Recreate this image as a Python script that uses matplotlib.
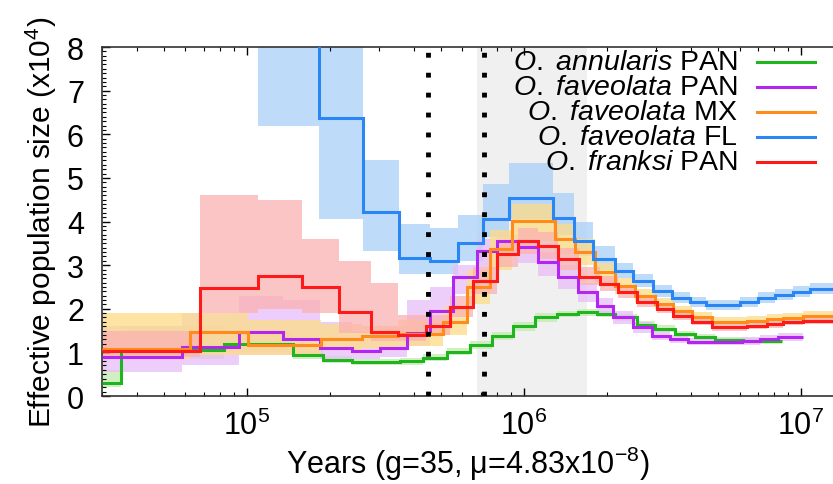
#!/usr/bin/env python
"""PSMC plot: effective population size through time for Orbicella populations."""
import matplotlib

matplotlib.use("agg")
import matplotlib.pyplot as plt
from matplotlib.ticker import LogLocator, MultipleLocator, NullFormatter

plt.rcParams["font.family"] = ["Liberation Sans", "DejaVu Sans"]
plt.rcParams["mathtext.fontset"] = "custom"
plt.rcParams["mathtext.rm"] = "Liberation Sans"
plt.rcParams["mathtext.it"] = "Liberation Sans:italic"
plt.rcParams["mathtext.bf"] = "Liberation Sans:bold"

# Step edges (years), Ne (x10^4) and bootstrap envelope for each population
ANN_PAN_EDGES = [3.0e4, 3.51e4, 8.26e4, 1.466e5, 1.88e5, 2.39e5, 3.56e5, 4.32e5,
                 5.28e5, 6.39e5, 7.66e5, 9.13e5, 1.096e6, 1.316e6, 1.567e6,
                 1.834e6, 2.13e6, 2.56e6, 2.97e6, 3.51e6, 4.14e6, 4.90e6,
                 6.18e6, 8.54e6]
ANN_PAN_NE = [0.30, 1.05, 1.19, 0.94, 0.83, 0.77, 0.80, 0.88, 1.02, 1.18, 1.38,
              1.60, 1.80, 1.88, 1.92, 1.88, 1.80, 1.63, 1.54, 1.42, 1.35, 1.28,
              1.26]
ANN_PAN_LO = [0.20, 0.85, 1.00, 0.85, 0.75, 0.70, 0.72, 0.80, 0.93, 1.08, 1.28,
              1.50, 1.70, 1.80, 1.84, 1.80, 1.72, 1.55, 1.47, 1.35, 1.28, 1.22,
              1.20]
ANN_PAN_HI = [0.60, 1.60, 1.50, 1.05, 0.92, 0.86, 0.88, 0.96, 1.10, 1.27, 1.47,
              1.70, 1.90, 1.96, 2.00, 1.96, 1.88, 1.72, 1.62, 1.50, 1.43, 1.36,
              1.33]

FAV_PAN_EDGES = [3.0e4, 5.82e4, 9.36e4, 1.349e5, 1.835e5, 2.39e5, 3.02e5,
                 3.78e5, 4.58e5, 5.55e5, 6.77e5, 7.99e5, 9.51e5, 1.124e6,
                 1.327e6, 1.567e6, 1.834e6, 2.095e6, 2.475e6, 2.90e6, 3.37e6,
                 3.91e6, 6.13e6, 7.12e6, 8.26e6, 1.017e7]
FAV_PAN_NE = [0.89, 1.12, 1.47, 1.31, 1.10, 1.03, 1.10, 1.45, 1.95, 2.73, 3.33,
              3.56, 3.42, 3.07, 2.73, 2.39, 2.06, 1.81, 1.58, 1.38, 1.31, 1.24,
              1.26, 1.31, 1.35]
FAV_PAN_LO = [0.55, 0.70, 0.95, 0.95, 0.85, 0.85, 0.90, 1.15, 1.60, 2.35, 2.95,
              3.20, 3.05, 2.75, 2.45, 2.15, 1.85, 1.65, 1.45, 1.28, 1.22, 1.16,
              1.18, 1.22, 1.26]
FAV_PAN_HI = [1.60, 1.90, 2.30, 2.20, 1.70, 1.50, 1.60, 2.20, 2.50, 3.00, 3.60,
              3.70, 3.60, 3.30, 3.00, 2.60, 2.25, 1.95, 1.70, 1.50, 1.40, 1.32,
              1.35, 1.40, 1.44]

FAV_MX_EDGES = [3.0e4, 6.22e4, 1.008e5, 1.85e5, 2.60e5, 3.51e5, 5.10e5, 6.23e5,
                7.54e5, 9.06e5, 1.295e6, 1.528e6, 1.804e6, 2.13e6, 2.52e6,
                2.97e6, 3.45e6, 4.04e6, 4.77e6, 6.38e6, 7.54e6, 8.61e6, 1.017e7,
                1.35e7]
FAV_MX_NE = [1.08, 1.47, 1.17, 1.31, 1.38, 1.42, 1.70, 2.50, 3.37, 4.01, 3.60,
             3.30, 2.84, 2.52, 2.29, 2.11, 1.95, 1.81, 1.70, 1.72, 1.77, 1.79,
             1.83]
FAV_MX_LO = [0.85, 0.95, 0.95, 1.05, 1.10, 1.15, 1.40, 2.10, 2.90, 3.55, 3.25,
             3.00, 2.60, 2.35, 2.15, 2.00, 1.85, 1.72, 1.62, 1.64, 1.68, 1.70,
             1.74]
FAV_MX_HI = [1.90, 1.90, 1.75, 1.65, 1.60, 1.75, 2.05, 2.90, 3.80, 4.40, 3.95,
             3.60, 3.05, 2.70, 2.45, 2.25, 2.07, 1.92, 1.82, 1.84, 1.88, 1.90,
             1.94]

FAV_FL_EDGES = [1.096e5, 1.82e5, 2.62e5, 3.54e5, 4.58e5, 5.78e5, 7.11e5,
                8.83e5, 1.274e6, 1.516e6, 1.775e6, 2.13e6, 2.48e6, 2.92e6,
                3.42e6, 3.97e6, 4.54e6, 6.03e6, 7.0e6, 8.05e6, 9.35e6, 1.078e7,
                1.35e7]
FAV_FL_NE = [10.0, 6.38, 4.22, 3.17, 3.10, 3.51, 4.06, 4.54, 4.08, 3.56, 3.14,
             2.87, 2.64, 2.41, 2.25, 2.16, 2.09, 2.16, 2.25, 2.32, 2.39, 2.45]
FAV_FL_LO = [6.20, 4.05, 3.33, 2.80, 2.80, 3.10, 3.65, 4.05, 3.70, 3.20, 2.90,
             2.70, 2.50, 2.28, 2.13, 2.04, 1.98, 2.04, 2.13, 2.20, 2.27, 2.33]
FAV_FL_HI = [12.0, 9.00, 5.40, 3.95, 3.85, 4.15, 4.85, 5.35, 4.65, 4.00, 3.45,
             3.05, 2.80, 2.55, 2.38, 2.28, 2.20, 2.28, 2.38, 2.45, 2.52, 2.58]

FRA_PAN_EDGES = [3.0e4, 6.76e4, 1.096e5, 1.58e5, 2.15e5, 2.80e5, 3.51e5,
                 4.43e5, 5.41e5, 6.55e5, 7.99e5, 9.51e5, 1.124e6, 1.327e6,
                 1.58e6, 1.88e6, 2.18e6, 2.56e6, 3.02e6, 3.45e6, 4.04e6, 4.77e6,
                 6.38e6, 7.54e6, 8.61e6, 1.017e7, 1.35e7]
FRA_PAN_NE = [1.03, 2.48, 2.75, 2.50, 1.93, 1.47, 1.40, 1.61, 2.04, 2.64, 3.26,
              3.56, 3.44, 3.14, 2.73, 2.57, 2.39, 2.16, 2.00, 1.83, 1.70, 1.58,
              1.61, 1.65, 1.70, 1.72]
FRA_PAN_LO = [0.90, 1.90, 2.00, 1.90, 1.45, 1.25, 1.25, 1.40, 1.80, 2.35, 2.95,
              3.25, 3.15, 2.90, 2.55, 2.40, 2.25, 2.05, 1.90, 1.74, 1.62, 1.50,
              1.53, 1.57, 1.62, 1.64]
FRA_PAN_HI = [1.50, 4.60, 4.50, 3.60, 3.10, 2.60, 1.85, 1.85, 2.30, 2.95, 3.55,
              3.85, 3.75, 3.40, 2.95, 2.75, 2.55, 2.30, 2.12, 1.94, 1.80, 1.68,
              1.71, 1.75, 1.80, 1.82]

LABELS = [r"$\mathit{O.\ annularis}$ PAN", r"$\mathit{O.\ faveolata}$ PAN",
          r"$\mathit{O.\ faveolata}$ MX", r"$\mathit{O.\ faveolata}$ FL",
          r"$\mathit{O.\ franksi}$ PAN"]
COLORS = ["#1fb51f", "#b326f0", "#ff8c1a", "#2a86f5", "#ff1a1a"]
LIGHT = ["#c4eab0", "#e8bdf7", "#fddc86", "#a9d1f9", "#fbb2b2"]

DOTTED_YEARS = [4.5e5, 7.2e5]
SHADE_YEARS = (6.77e5, 1.69e6)


def make_plot():
    series = [
        (ANN_PAN_EDGES, ANN_PAN_NE, ANN_PAN_LO, ANN_PAN_HI),
        (FAV_PAN_EDGES, FAV_PAN_NE, FAV_PAN_LO, FAV_PAN_HI),
        (FAV_MX_EDGES, FAV_MX_NE, FAV_MX_LO, FAV_MX_HI),
        (FAV_FL_EDGES, FAV_FL_NE, FAV_FL_LO, FAV_FL_HI),
        (FRA_PAN_EDGES, FRA_PAN_NE, FRA_PAN_LO, FRA_PAN_HI),
    ]
    fig = plt.figure(figsize=(8.33, 4.85), dpi=100)
    ax = fig.add_axes([0.1225, 0.1814, 0.8775, 0.7196])

    ax.axvspan(*SHADE_YEARS, color="#f0f0f0", lw=0, zorder=0)

    # bootstrap envelopes first, blue at the back
    for i in [3, 0, 1, 2, 4]:
        edges, ne, lo, hi = series[i]
        ax.stairs(hi, edges, baseline=lo, fill=True, color=LIGHT[i],
                  alpha=0.75, lw=0, zorder=1)
    for i, (edges, ne, lo, hi) in enumerate(series):
        ax.stairs(ne, edges, baseline=None, color=COLORS[i], lw=2.2, zorder=3)

    for x in DOTTED_YEARS:
        ax.axvline(x, color="k", lw=3.5, linestyle=(0, (1, 3.1)), zorder=4)

    ax.set_xscale("log")
    ax.set_xlim(3.0e4, 1.305e7)
    ax.set_ylim(0, 8)
    ax.xaxis.set_major_locator(LogLocator(base=10, numticks=10))
    ax.xaxis.set_minor_locator(LogLocator(base=10, subs=range(2, 10), numticks=10))
    ax.xaxis.set_minor_formatter(NullFormatter())
    ax.yaxis.set_major_locator(MultipleLocator(1))
    ax.yaxis.set_minor_locator(MultipleLocator(0.1))
    ax.tick_params(which="both", direction="in", top=True, right=False,
                   labelsize=22)
    ax.tick_params(axis="y", pad=13)
    ax.tick_params(axis="x", pad=10)
    ax.tick_params(which="major", length=6, width=1)
    ax.tick_params(which="minor", length=3, width=0.8)
    ax.spines["right"].set_visible(False)
    for side in ["left", "bottom", "top"]:
        ax.spines[side].set_linewidth(1.2)
        ax.spines[side].set_color("#333333")

    ax.set_xlabel("Years (g=35, \u03bc=4.83x10$^{-8}$)", fontsize=22, labelpad=2)
    ax.set_ylabel("Effective population size (x10$^{4}$)", fontsize=21.5,
                  labelpad=6)

    # gnuplot-style key: text right aligned, sample line on the right
    for i, label in enumerate(LABELS):
        y = 0.957 - i * 0.0716
        ax.text(0.870, y, label, transform=ax.transAxes, ha="right",
                va="center", fontsize=20.5, zorder=5)
        ax.plot([0.896, 0.975], [y, y], transform=ax.transAxes,
                color=COLORS[i], lw=2.2, zorder=5)

    fig.savefig("out.png", dpi=100)


if __name__ == "__main__":
    make_plot()
